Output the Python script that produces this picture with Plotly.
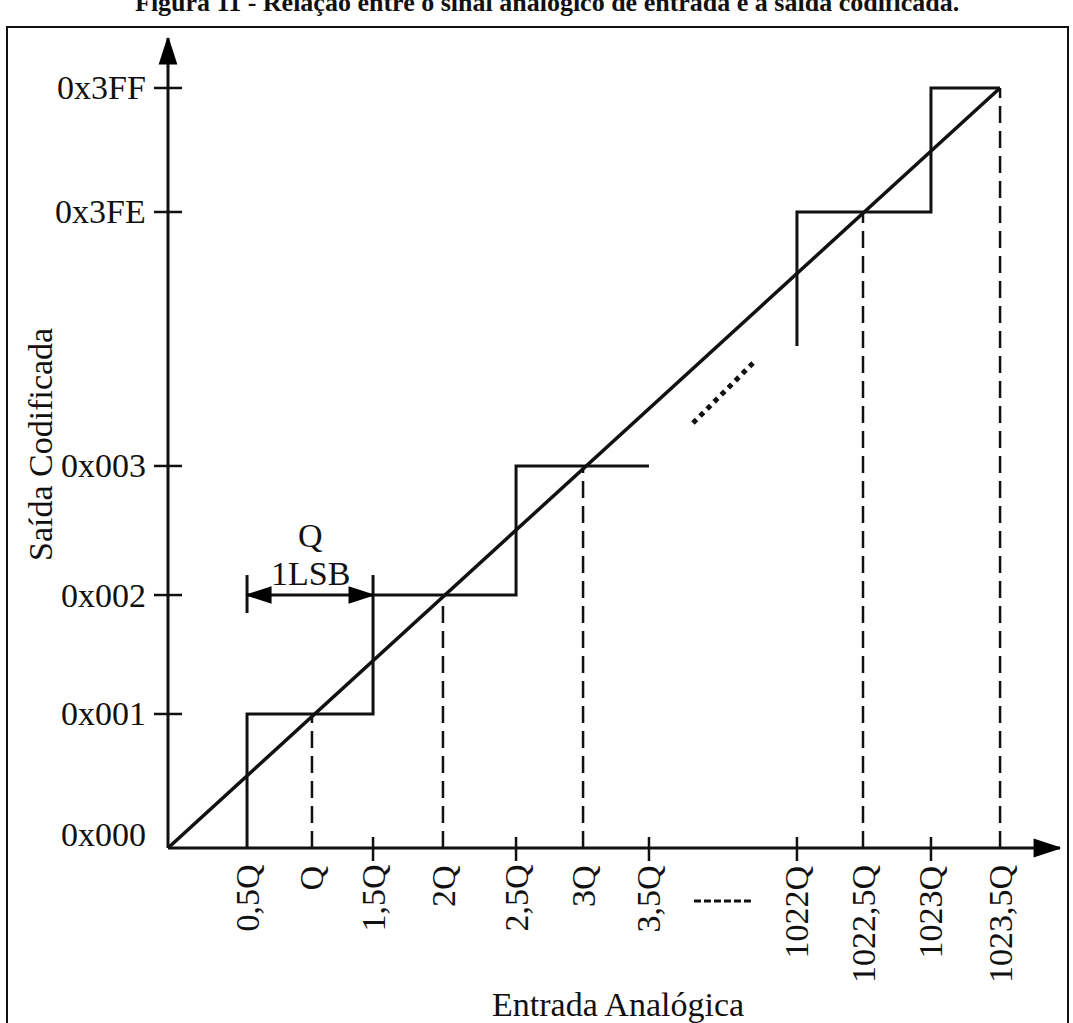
import plotly.graph_objects as go

# ---------------- data (positions, in display units) ----
x_labels = ["0,5Q", "Q", "1,5Q", "2Q", "2,5Q", "3Q", "3,5Q",
            "1022Q", "1022,5Q", "1023Q", "1023,5Q"]
x_pos = [0.572, 1.042, 1.484, 1.990, 2.519, 3.004, 3.481,
         4.552, 5.030, 5.522, 6.022]
y_labels = ["0x000", "0x001", "0x002", "0x003", "0x3FE", "0x3FF"]
y_pos = [0.0, 1.058, 1.997, 3.016, 5.021, 6.000]

X = dict(zip(x_labels, x_pos))
Y = dict(zip(y_labels, y_pos))

# ---------------- geometry of the canvas (px <-> display units) ---------------
W, H = 1073, 1023
OX, OY = 168, 848          # origin pixel
UX, UY = 138.17, 126.67    # px per display unit
xr = [-OX / UX, (W - OX) / UX]
yr = [-(H - OY) / UY, OY / UY]

def px_dx(p):
    return p / UX

def px_dy(p):
    return p / UY

INK = "#111111"
FONT = "Liberation Serif"
FS = 34

fig = go.Figure()

def line(xs, ys, width=3, dash=None):
    fig.add_trace(go.Scatter(
        x=xs, y=ys, mode="lines",
        line=dict(color=INK, width=width, dash=dash),
        hoverinfo="skip", showlegend=False))

# axes
x_tip = px_dx(1060 - OX)
y_tip = px_dy(OY - 38)
line([0, x_tip], [0, 0], 3)
line([0, 0], [0, y_tip], 3)

# axis ticks (crossing the axis lines)
tick_y_codes = ["0x001", "0x002", "0x003", "0x3FE", "0x3FF"]
tx, ty = [], []
for c in tick_y_codes:
    tx += [-px_dx(14), px_dx(14), None]
    ty += [Y[c], Y[c], None]
line(tx, ty, 2.5)

tick_x_vals = ["1,5Q", "2,5Q", "3,5Q", "1022Q", "1023Q"]
tx, ty = [], []
for v in tick_x_vals:
    tx += [X[v], X[v], None]
    ty += [px_dy(11), -px_dy(13), None]
line(tx, ty, 2.5)

# ideal transfer line
line([0, X["1023,5Q"]], [0, Y["0x3FF"]], 3.5)

# staircase (low codes)
line([X["0,5Q"], X["0,5Q"], X["1,5Q"], X["1,5Q"], X["2,5Q"], X["2,5Q"], X["3,5Q"]],
     [0, Y["0x001"], Y["0x001"], Y["0x002"], Y["0x002"], Y["0x003"], Y["0x003"]], 3)

# staircase (high codes)
stub = Y["0x001"] - Y["0x000"]
line([X["1022Q"], X["1022Q"], X["1023Q"], X["1023Q"], X["1023,5Q"]],
     [Y["0x3FE"] - stub, Y["0x3FE"], Y["0x3FE"], Y["0x3FF"], Y["0x3FF"]], 3)

# dashed verticals at the code centres
mid_pts = [("Q", "0x001"), ("2Q", "0x002"), ("3Q", "0x003"),
           ("1022,5Q", "0x3FE"), ("1023,5Q", "0x3FF")]
dx_, dy_ = [], []
for xv, yc in mid_pts:
    dx_ += [X[xv], X[xv], None]
    dy_ += [0, Y[yc], None]
line(dx_, dy_, 2.5, "17px,8px")

# 1 LSB dimension marker
bar_top = Y["0x002"] + px_dy(20)
bar_bot = Y["0x002"] - px_dy(18)
line([X["0,5Q"], X["0,5Q"], None, X["1,5Q"], X["1,5Q"]],
     [bar_bot, bar_top, None, Y["0x002"], bar_top], 3)
line([X["0,5Q"], X["1,5Q"]], [Y["0x002"], Y["0x002"]], 3)

# arrow heads
fig.add_trace(go.Scatter(
    x=[0, x_tip, X["0,5Q"], X["1,5Q"]],
    y=[y_tip, 0, Y["0x002"], Y["0x002"]],
    mode="markers",
    marker=dict(symbol="arrow", angle=[0, 90, 270, 90], size=[27, 27, 25, 25],
                color="#000000", opacity=1,
                line=dict(width=1.5, color="#000000")),
    hoverinfo="skip", showlegend=False))

# ellipsis marks in the gap of the axis
gx = (X["3,5Q"] + X["1022Q"]) / 2
slope = Y["0x3FF"] / X["1023,5Q"]
gy = slope * gx - px_dy(52)
line([gx - px_dx(30), gx + px_dx(30)], [gy - px_dy(30), gy + px_dy(30)], 5, "5px,5px")
line([gx - px_dx(29), gx + px_dx(29)], [-px_dy(53), -px_dy(53)], 3, "7px,3px")

# ---------------- text ------------------------------------------------------
ann = []
for lab in y_labels:
    ann.append(dict(x=-px_dx(20), y=Y[lab], xref="x", yref="y", text=lab,
                    showarrow=False, xanchor="right", yanchor="middle",
                    yshift=14 if Y[lab] == 0 else 0,
                    font=dict(family=FONT, size=FS, color=INK)))
for lab in x_labels:
    ann.append(dict(x=X[lab], y=-px_dy(15), xref="x", yref="y", text=lab,
                    showarrow=False, xanchor="center", yanchor="top",
                    textangle=-90,
                    font=dict(family=FONT, size=FS, color=INK)))

mx = (X["0,5Q"] + X["1,5Q"]) / 2
ann.append(dict(x=mx, y=Y["0x002"] + px_dy(22), xref="x", yref="y", text="1LSB",
                showarrow=False, xanchor="center", yanchor="middle",
                font=dict(family=FONT, size=FS, color=INK)))
ann.append(dict(x=mx, y=Y["0x002"] + px_dy(60), xref="x", yref="y", text="Q",
                showarrow=False, xanchor="center", yanchor="middle",
                font=dict(family=FONT, size=FS, color=INK)))

ann.append(dict(x=40 / W, y=1 - 445 / H, xref="paper", yref="paper",
                text="Saída Codificada", showarrow=False, textangle=-90,
                xanchor="center", yanchor="middle",
                font=dict(family=FONT, size=FS, color=INK)))
ann.append(dict(x=618 / W, y=1 - 1004 / H, xref="paper", yref="paper",
                text="Entrada Analógica", showarrow=False,
                xanchor="center", yanchor="middle",
                font=dict(family=FONT, size=FS, color=INK)))
ann.append(dict(x=547 / W, y=1 - 3 / H, xref="paper", yref="paper",
                text="<b>Figura 11 - Relação entre o sinal analógico de entrada e a saída codificada.</b>",
                showarrow=False, xanchor="center", yanchor="middle",
                font=dict(family=FONT, size=26, color=INK)))

fig.update_layout(
    width=W, height=H,
    margin=dict(l=0, r=0, t=0, b=0),
    paper_bgcolor="white", plot_bgcolor="white",
    xaxis=dict(range=xr, visible=False, fixedrange=True),
    yaxis=dict(range=yr, visible=False, fixedrange=True),
    hovermode=False,
    annotations=ann,
    shapes=[dict(type="rect", xref="paper", yref="paper",
                 x0=7 / W, x1=1068 / W, y0=-0.05, y1=1 - 27 / H,
                 line=dict(color=INK, width=2), layer="above")],
)

fig.write_html("out.html", config={"displayModeBar": False})
